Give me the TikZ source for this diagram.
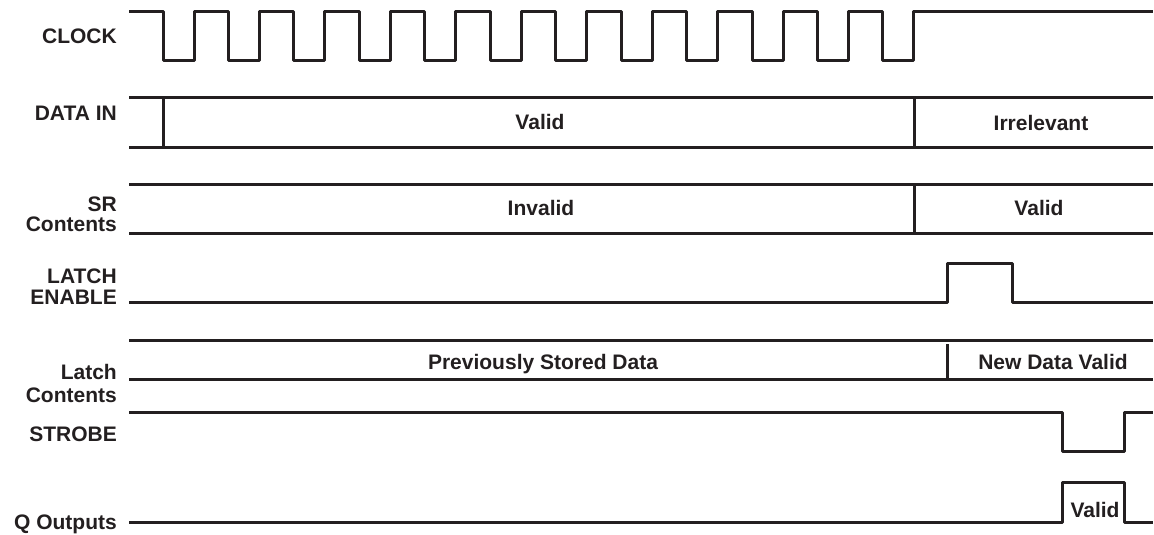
\documentclass[tikz,border=0pt]{standalone}
\usepackage{fontspec}
\setmainfont{Liberation Sans}
\definecolor{ink}{RGB}{35,31,32}
\begin{document}
\begin{tikzpicture}[x=1pt,y=-1pt,
  wave/.style={draw=ink,line width=3pt,line join=round,line cap=butt},
  siglabel/.style={anchor=base east,inner sep=0pt,text=ink,font=\fontsize{21}{25}\selectfont\bfseries,align=right},
  vallabel/.style={anchor=base,inner sep=0pt,text=ink,font=\fontsize{21}{25}\selectfont\bfseries}]
\useasboundingbox (0,0) rectangle (1154,535);
% signal names
\node[siglabel] (lclk) at (117,44) {CLOCK};
\node[siglabel] (ldin) at (117,121) {DATA IN};
\node[siglabel] (lsr1) at (117,211) {SR};
\node[siglabel] (lsr2) at (117,231) {Contents};
\node[siglabel] (lle1) at (117,283) {LATCH};
\node[siglabel] (lle2) at (117,304) {ENABLE};
\node[siglabel] (llc1) at (117,379) {Latch};
\node[siglabel] (llc2) at (117,402) {Contents};
\node[siglabel] (lstb) at (117,441) {STROBE};
\node[siglabel] (lq) at (117,529) {Q Outputs};
% CLOCK
\draw[wave] (129,12) foreach \k in {0,...,11} {
  -- ({163+65.45*\k},12) -- ({163+65.45*\k},61) -- ({194+65.45*\k},61) -- ({194+65.45*\k},12) } -- (1153,12);
% DATA IN
\draw[wave] (129,97) -- (1153,97);
\draw[wave] (129,147) -- (1153,147);
\draw[wave] (163,97) -- (163,147);
\draw[wave] (914,97) -- (914,147);
\node[vallabel] (vdin) at (540,129) {Valid};
\node[vallabel] (vdirr) at (1041,130) {Irrelevant};
% SR Contents
\draw[wave] (129,184) -- (1153,184);
\draw[wave] (129,233) -- (1153,233);
\draw[wave] (914,184) -- (914,233);
\node[vallabel] (vsrinv) at (541,215) {Invalid};
\node[vallabel] (vsrval) at (1039,215) {Valid};
% LATCH ENABLE
\draw[wave] (129,302) -- (947,302) -- (947,263) -- (1012,263) -- (1012,302) -- (1153,302);
% Latch Contents
\draw[wave] (129,340) -- (1153,340);
\draw[wave] (129,379) -- (1153,379);
\draw[wave] (947,344) -- (947,379);
\node[vallabel] (vprev) at (543,369) {Previously Stored Data};
\node[vallabel] (vnew) at (1053,369) {New Data Valid};
% STROBE
\draw[wave] (129,412) -- (1062,412) -- (1062,451) -- (1124,451) -- (1124,412) -- (1153,412);
% Q Outputs
\draw[wave] (129,522) -- (1062,522) -- (1062,482) -- (1124,482) -- (1124,522) -- (1153,522);
\node[vallabel] (vq) at (1095,517) {Valid};
\end{tikzpicture}
\end{document}
